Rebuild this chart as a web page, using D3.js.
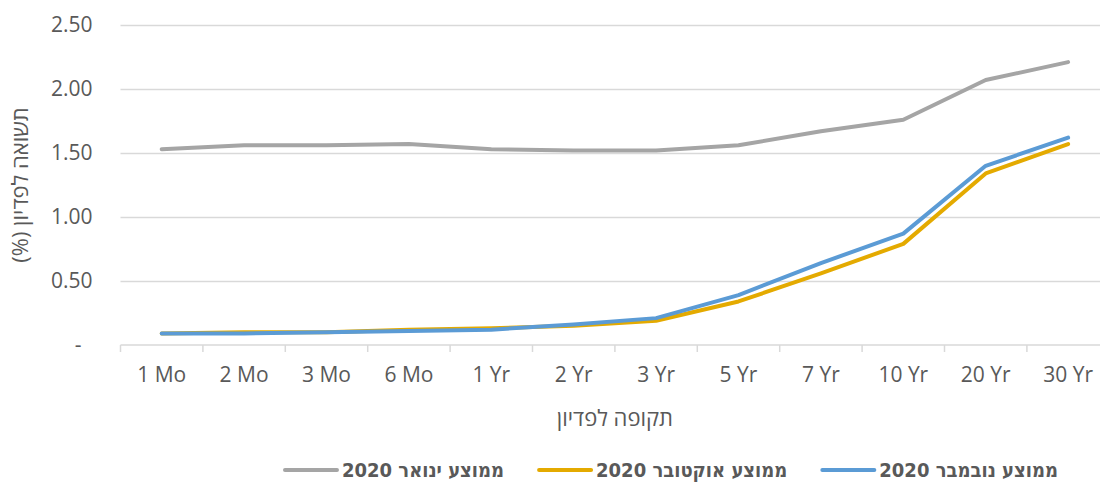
<!DOCTYPE html>
<html lang="he">
<head>
<meta charset="utf-8">
<script src="https://cdn.jsdelivr.net/npm/d3@7"></script>
<style>
  html, body { margin: 0; padding: 0; background: #ffffff; }
  svg { display: block; }
  .tick text { font-family: "Open Sans", sans-serif; font-size: 21px; fill: #595959; }
</style>
</head>
<body>
<svg id="chart" width="1100" height="486"></svg>
<script>
// Maturities on the yield curve
const maturities = ["1 Mo", "2 Mo", "3 Mo", "6 Mo", "1 Yr", "2 Yr", "3 Yr", "5 Yr", "7 Yr", "10 Yr", "20 Yr", "30 Yr"];

// Average yields to maturity (%)
const january2020  = [1.53, 1.56, 1.56, 1.57, 1.53, 1.52, 1.52, 1.56, 1.67, 1.76, 2.07, 2.21];
const october2020  = [0.09, 0.10, 0.10, 0.12, 0.13, 0.15, 0.19, 0.34, 0.56, 0.79, 1.34, 1.57];
const november2020 = [0.09, 0.09, 0.10, 0.11, 0.12, 0.16, 0.21, 0.39, 0.64, 0.87, 1.40, 1.62];

const seriesNames = ["ממוצע ינואר 2020", "ממוצע אוקטובר 2020", "ממוצע נובמבר 2020"];
const seriesColors = ["#A5A5A5", "#E4AA00", "#5B9BD5"];

const yTickValues = [0, 0.5, 1, 1.5, 2, 2.5];
const yTickLabels = ["-\u00a0\u00a0", "0.50", "1.00", "1.50", "2.00", "2.50"];

const series = [january2020, october2020, november2020].map((values, i) => ({
  name: seriesNames[i], color: seriesColors[i], values
}));

const svg = d3.select("#chart");
const plotLeft = 120.5, plotRight = 1109.3, plotTop = 25, plotBottom = 345;

const x = d3.scaleBand().domain(maturities).range([plotLeft, plotRight]).padding(0);
const y = d3.scaleLinear().domain([0, 2.5]).range([plotBottom, plotTop]);

// Horizontal gridlines and value labels
const yAxis = svg.append("g")
  .attr("transform", `translate(${plotLeft},0)`)
  .call(d3.axisLeft(y)
    .tickValues(yTickValues.slice(1))
    .tickSize(-(plotRight - plotLeft))
    .tickPadding(28)
    .tickFormat((d) => yTickLabels[yTickValues.indexOf(d)]));
yAxis.select(".domain").remove();
yAxis.selectAll(".tick line").attr("stroke", "#d9d9d9").attr("stroke-width", 1.5);

// Zero label (no gridline there, the category axis sits on it)
const zeroAxis = svg.append("g")
  .attr("transform", `translate(${plotLeft},0)`)
  .call(d3.axisLeft(y).tickValues([0]).tickSize(0).tickPadding(28)
    .tickFormat(() => yTickLabels[0]));
zeroAxis.select(".domain").remove();

// Category axis: baseline, boundary ticks and labels
svg.append("line")
  .attr("x1", plotLeft).attr("x2", plotRight)
  .attr("y1", y(0)).attr("y2", y(0))
  .attr("stroke", "#d9d9d9").attr("stroke-width", 1.5);

svg.append("g").selectAll("line")
  .data(maturities.map((m) => x(m)).concat([plotRight]))
  .join("line")
  .attr("x1", (d) => d).attr("x2", (d) => d)
  .attr("y1", y(0)).attr("y2", y(0) + 7)
  .attr("stroke", "#d9d9d9").attr("stroke-width", 1.5);

const xAxis = svg.append("g")
  .attr("transform", `translate(0,${y(0)})`)
  .call(d3.axisBottom(x).tickSize(0).tickPadding(22));
xAxis.select(".domain").remove();

// Series lines
const line = d3.line()
  .x((d, i) => x(maturities[i]) + x.bandwidth() / 2)
  .y((d) => y(d));

svg.append("g").selectAll("path")
  .data(series)
  .join("path")
  .attr("d", (d) => line(d.values))
  .attr("fill", "none")
  .attr("stroke", (d) => d.color)
  .attr("stroke-width", 4)
  .attr("stroke-linecap", "round")
  .attr("stroke-linejoin", "round");

// Axis titles
svg.append("text")
  .attr("transform", `translate(28,${(plotTop + plotBottom) / 2}) rotate(-90)`)
  .attr("text-anchor", "middle")
  .attr("direction", "rtl")
  .style("font-family", "'Open Sans', sans-serif")
  .style("font-size", "22px")
  .style("fill", "#595959")
  .text("תשואה לפדיון (%)");

svg.append("text")
  .attr("x", (plotLeft + plotRight) / 2)
  .attr("y", 426)
  .attr("text-anchor", "middle")
  .attr("direction", "rtl")
  .style("font-family", "'Open Sans', sans-serif")
  .style("font-size", "22px")
  .style("fill", "#595959")
  .text("תקופה לפדיון");

// Legend, laid out right to left
const legend = svg.append("g");
let cursor = 1058;
series.slice().reverse().forEach((s) => {
  const t = legend.append("text")
    .attr("x", cursor)
    .attr("y", 477)
    .attr("direction", "rtl")
    .attr("text-anchor", "start")
    .style("font-family", "'DejaVu Sans Condensed', 'DejaVu Sans', sans-serif")
    .style("font-weight", "bold")
    .style("font-size", "20px")
    .style("fill", "#595959")
    .text(s.name);
  const w = t.node().getComputedTextLength();
  const textLeft = cursor - w;
  legend.append("line")
    .attr("x1", textLeft - 57).attr("x2", textLeft - 5)
    .attr("y1", 470).attr("y2", 470)
    .attr("stroke", s.color)
    .attr("stroke-width", 4)
    .attr("stroke-linecap", "round");
  cursor = textLeft - 57 - 35;
});
</script>
</body>
</html>
